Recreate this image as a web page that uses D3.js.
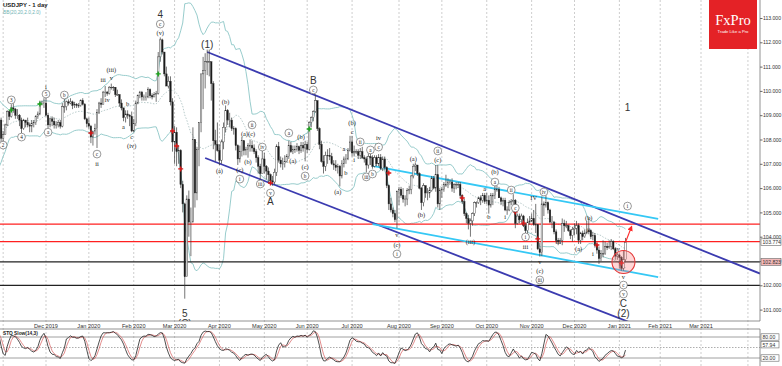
<!DOCTYPE html>
<html>
<head>
<meta charset="utf-8">
<script src="https://cdn.jsdelivr.net/npm/d3@7"></script>
<style>
body { margin: 0; background: #fff; }
svg { display: block; font-family: "Liberation Sans", Arial, sans-serif; }
</style>
</head>
<body>
<div id="chart"></div>
<script>
// daily bars, 3 Oct 2019 .. 7 Jan 2021 (first 20 bars only feed the indicators)
var highs = [
    107.3,107.1,107.4,107.5,107.6,108.1,108.6,108.5,108.9,108.9,108.85,108.75,108.7,108.7,108.75,108.75,108.75,109.0,109.05,109.3,108.9,
    108.35,108.65,109.2,109.2,109.45,109.5,109.3,109.25,109.05,108.9,108.85,108.8,108.9,108.7,108.8,108.8,109.0,109.15,109.6,109.6,109.7,
    109.75,109.1,108.9,108.95,108.9,108.75,108.8,108.8,109.5,109.7,109.6,109.65,109.7,109.6,109.55,109.5,109.5,109.65,109.7,109.5,108.9,
    108.9,108.6,108.35,108.65,109.25,109.55,109.7,110.0,110.2,110.0,110.2,110.3,110.2,110.15,110.05,109.85,109.65,109.2,109.2,109.2,109.05,109.15,
    108.85,109.6,109.85,110.0,110.0,109.85,109.95,110.15,110.1,109.9,109.95,110.0,111.6,112.2,112.15,111.6,111.0,110.6,110.6,109.7,
    108.55,108.5,107.75,107.6,106.3,105.4,105.7,105.9,105.2,108.5,107.5,107.7,108.7,110.7,111.4,111.55,111.7,111.7,111.2,110.4,108.4,108.7,
    107.8,108.0,108.7,109.4,109.25,109.1,108.9,108.55,108.5,107.8,107.75,108.1,107.95,107.7,107.85,108.0,107.95,107.8,107.6,107.35,107.0,107.55,
    107.45,106.95,106.85,106.6,106.5,106.8,107.8,107.9,107.3,107.25,107.35,107.4,107.95,107.9,107.75,107.75,107.85,107.75,107.9,107.9,107.95,
    107.9,108.75,108.95,109.2,109.85,109.6,108.5,107.95,107.35,107.5,107.6,107.65,107.45,107.15,107.15,107.0,106.95,107.15,107.3,107.4,107.65,108.15,
    108.15,107.75,107.6,107.6,107.65,107.7,107.35,107.3,107.45,107.45,107.35,107.35,107.35,107.4,107.4,107.3,107.3,106.9,106.15,105.6,105.2,105.1,105.9,
    106.05,106.05,106.0,105.7,106.0,106.1,106.55,107.0,107.05,106.95,106.65,106.05,106.2,106.1,106.0,106.05,106.5,106.5,106.95,106.95,106.0,
    106.05,106.25,106.55,106.4,106.35,106.4,106.2,106.25,106.25,106.25,105.75,105.55,105.0,104.9,104.75,105.0,105.45,105.45,105.65,105.7,105.8,105.8,
    105.8,105.7,105.8,105.8,106.1,106.1,106.05,105.65,105.6,105.6,105.25,105.5,105.55,105.75,105.55,104.95,104.95,104.95,104.9,104.55,104.75,104.85,
    104.95,105.1,105.35,104.5,103.75,105.65,105.45,105.7,105.45,105.15,104.85,104.65,104.3,103.95,103.95,104.75,104.7,104.65,104.5,104.3,104.4,
    104.55,104.65,104.55,104.2,104.25,104.3,104.65,104.75,104.3,104.2,104.15,103.75,103.6,103.45,103.85,103.8,103.75,103.85,103.9,103.85,103.55,103.35,
    103.3,103.2,103.45,103.95
];
var lows = [
    106.5,106.6,106.8,106.95,107.0,107.3,107.9,108.1,108.2,108.6,108.45,108.3,108.35,108.4,108.45,108.45,108.5,108.6,108.7,108.7,107.9,
    107.9,108.2,108.55,108.8,108.9,109.1,108.85,108.85,108.55,108.25,108.4,108.5,108.5,108.3,108.3,108.5,108.6,108.85,109.0,109.4,109.3,
    108.95,108.45,108.5,108.55,108.45,108.45,108.5,108.45,108.5,109.1,109.2,109.4,109.45,109.25,109.3,109.3,109.3,109.35,109.4,108.8,108.5,
    108.45,107.85,107.75,108.2,107.65,109.05,109.3,109.45,109.75,109.8,109.85,110.05,110.0,109.75,109.8,109.35,109.2,108.75,108.7,108.85,108.55,108.3,
    108.3,108.55,109.45,109.7,109.6,109.6,109.6,109.7,109.7,109.65,109.75,109.55,109.85,111.2,111.5,110.6,110.2,110.1,109.4,107.5,
    107.0,106.9,107.0,106.0,105.0,101.45,102.5,104.0,103.2,104.7,105.2,105.5,106.9,108.3,109.25,110.1,110.65,110.6,109.6,107.6,107.1,107.5,
    106.95,107.0,107.6,108.3,108.6,108.5,108.35,108.2,107.55,106.95,107.05,107.3,107.35,107.35,107.25,107.5,107.5,107.4,107.05,106.6,106.35,106.6,
    106.6,106.35,106.2,106.15,106.1,106.15,106.5,107.05,106.85,106.75,106.85,107.05,107.2,107.45,107.4,107.45,107.5,107.4,107.45,107.5,107.1,
    107.45,107.55,108.5,108.75,109.1,108.35,107.6,107.05,106.6,106.7,107.0,107.15,106.95,106.75,106.7,106.6,106.07,106.4,106.85,107.0,107.15,107.5,
    107.3,107.3,107.4,107.2,107.2,107.2,107.05,106.65,106.8,106.95,106.8,106.85,106.9,106.9,106.75,106.7,106.75,106.0,105.1,105.0,104.8,104.6,104.35,
    105.3,105.6,105.4,105.25,105.3,105.75,105.75,106.4,106.7,106.5,105.95,105.1,105.25,105.6,105.5,105.6,105.85,105.95,105.85,105.2,105.1,
    105.6,105.85,106.05,106.0,106.15,105.85,105.8,105.95,106.0,105.6,105.35,104.85,104.55,104.3,104.0,104.45,104.85,105.2,105.35,105.3,105.4,105.35,
    105.35,104.95,105.2,105.3,105.55,105.85,105.6,105.3,105.25,105.05,104.9,105.05,105.3,105.3,104.35,104.5,104.55,104.6,104.4,104.05,104.1,104.5,
    104.6,104.45,104.15,103.45,103.18,103.2,104.85,105.2,104.95,104.55,104.35,104.1,103.75,103.65,103.7,103.65,104.2,104.35,104.2,103.9,103.8,
    104.05,104.1,103.7,103.7,103.85,103.95,104.1,104.1,103.9,103.85,103.55,103.3,102.88,103.0,103.15,103.25,103.45,103.5,103.45,103.45,103.05,103.05,
    102.7,102.6,102.6,102.95
];
var closes = [
    106.9,106.9,107.25,107.1,107.45,107.95,108.4,108.4,108.85,108.75,108.65,108.45,108.6,108.5,108.7,108.6,108.7,108.95,108.85,108.8,108.05,
    108.2,108.6,109.15,108.95,109.3,109.25,109.0,109.0,108.8,108.45,108.8,108.7,108.6,108.55,108.65,108.7,108.95,109.05,109.5,109.5,109.5,
    109.0,108.6,108.85,108.75,108.6,108.6,108.7,108.55,109.35,109.35,109.55,109.5,109.55,109.4,109.45,109.4,109.4,109.6,109.45,108.85,108.65,
    108.55,108.1,108.35,108.45,109.1,109.5,109.45,109.95,109.95,109.9,110.15,110.15,110.15,109.85,109.85,109.5,109.3,108.9,109.05,109.0,108.95,108.35,
    108.65,109.5,109.8,109.95,109.75,109.75,109.75,110.05,109.8,109.75,109.85,109.9,111.4,112.1,111.6,110.7,110.2,110.4,109.55,107.9,
    108.3,107.5,107.55,106.15,105.35,102.35,105.55,104.6,104.6,108.0,105.8,107.6,108.7,110.7,110.85,111.2,111.2,111.2,110.3,107.95,107.8,107.55,
    107.15,107.9,108.5,109.2,108.8,108.8,108.45,108.45,107.75,107.2,107.5,107.95,107.55,107.6,107.75,107.75,107.65,107.5,107.25,106.9,106.6,107.2,
    106.9,106.7,106.55,106.3,106.25,106.65,107.7,107.15,107.0,107.0,107.1,107.3,107.75,107.5,107.6,107.6,107.7,107.55,107.75,107.65,107.8,
    107.6,108.7,108.9,109.15,109.6,108.45,107.8,107.1,106.9,107.35,107.35,107.3,107.0,106.95,106.85,106.9,106.5,107.0,107.2,107.2,107.55,107.9,
    107.45,107.5,107.5,107.35,107.5,107.25,107.2,106.95,107.3,107.25,106.9,107.25,107.0,107.25,106.8,107.2,106.85,106.1,105.35,105.1,104.95,104.7,105.85,
    105.95,105.7,105.55,105.55,105.9,105.95,106.5,106.9,106.95,106.6,106.0,105.4,106.1,105.8,105.8,105.9,106.4,106.0,106.55,105.35,105.9,
    105.95,106.15,106.15,106.25,106.25,106.0,106.15,106.15,106.15,105.7,105.45,104.95,104.75,104.55,104.65,104.95,105.4,105.4,105.6,105.5,105.7,105.45,
    105.5,105.3,105.7,105.7,105.95,105.95,105.6,105.45,105.5,105.1,105.1,105.4,105.45,105.5,104.55,104.85,104.7,104.85,104.45,104.25,104.6,104.65,
    104.75,104.5,104.5,103.5,103.35,105.35,105.3,105.4,105.1,104.6,104.6,104.2,103.85,103.8,103.85,104.55,104.45,104.45,104.25,104.05,104.3,
    104.35,104.45,103.85,104.15,104.0,104.15,104.2,104.25,104.0,104.05,103.65,103.45,103.1,103.3,103.3,103.6,103.55,103.6,103.8,103.5,103.2,103.25,
    103.15,102.7,103.05,103.77
];

var priceTicks = [101,102,103,104,105,106,107,108,109,110,111,112,113];
var stochLevels = [80, 20];
var resistance = [104.52, 103.8];   // red lines
var support = [102.96, 102.0];      // black lines
var priceBoxes = [[103.774, "103.774", "#fff"], [102.96, "102.823", "#f3b9b9"]];
var stochBoxes = [[80, "80.00"], [57.94, "57.94"], [20, "20.00"]];

// channel lines: two anchors each [date, price]
var darkChannel = [
    [["2020-03-24", 111.6], ["2020-06-04", 109.85]],
    [["2020-03-23", 107.24], ["2020-05-06", 106.2]]
];
var cyanChannel = [
    [["2020-07-15", 106.91], ["2021-01-29", 104.73]],
    [["2020-07-15", 104.52], ["2021-01-29", 102.34]]
];

// wave labels [date, price, text, kind]  c = circled, s = small, b = big
var waveLabels = [
    ["2019-11-01",107.77,"2","c"],["2019-11-07",109.63,"3","c"],["2019-11-14",108.1,"4","c"],
    ["2019-12-02",109.87,"5","c"],["2019-12-02",110.14,"i","s"],["2019-12-03",108.3,"a","c"],
    ["2019-12-13",109.83,"b","c"],["2020-01-08",107.4,"c","c"],["2020-01-08",107.0,"ii","s"],
    ["2020-01-13",110.45,"iii","s"],["2020-01-17",110.88,"(iii)","s"],["2020-01-17",110.53,"v","s"],
    ["2020-01-15",109.63,"iv","s"],["2020-01-27",108.5,"a","s"],["2020-01-29",109.46,"b","s"],
    ["2020-01-31",108.1,"c","s"],["2020-01-31",107.73,"(iv)","s"],
    ["2020-02-20",112.75,"c","c"],["2020-02-20",112.38,"(v)","s"],["2020-02-20",113.16,"4","b"],
    ["2020-03-09",100.86,"5","b"],["2020-03-09",100.42,"(C)","b"],["2020-03-24",111.93,"(1)","b"],
    ["2020-04-06",109.54,"(b)","s"],["2020-04-01",106.7,"(a)","s"],["2020-04-15",106.74,"(c)","s"],
    ["2020-04-15",106.37,"i","c"],["2020-04-21",108.23,"(a)(c)","s"],["2020-04-23",108.6,"ii","c"],
    ["2020-04-21",107.07,"(b)","s"],["2020-04-30",107.69,"iv","c"],["2020-04-29",106.17,"iii","c"],
    ["2020-05-06",105.8,"v","c"],["2020-05-06",105.43,"A","b"],["2020-05-19",108.27,"a","c"],
    ["2020-05-21",107.12,"(a)","s"],["2020-05-27",108.1,"(b)","s"],["2020-05-29",106.87,"(c)","s"],
    ["2020-05-29",106.5,"b","c"],["2020-06-04",110.04,"c","c"],["2020-06-04",110.41,"B","b"],
    ["2020-07-01",108.68,"(b)","s"],["2020-07-01",108.31,"c","s"],["2020-06-25",107.61,"a","s"],
    ["2020-07-02",107.16,"i","s"],["2020-06-26",106.62,"b","s"],["2020-06-22",105.84,"(a)","s"],
    ["2020-07-07",107.9,"ii","c"],["2020-07-10",106.46,"iii","c"],["2020-07-14",107.57,"a","c"],
    ["2020-07-15",106.58,"b","c"],["2020-07-20",108.06,"iv","s"],["2020-07-20",107.69,"c","c"],
    ["2020-07-31",104.07,"v","s"],["2020-07-31",103.66,"(c)","s"],["2020-07-31",103.29,"i","c"],
    ["2020-08-12",107.2,"(a)","s"],["2020-08-18",104.89,"(b)","s"],["2020-08-28",107.53,"ii","c"],
    ["2020-08-28",107.16,"(c)","s"],["2020-09-21",103.78,"(iii)","s"],["2020-10-07",106.66,"(b)","s"],
    ["2020-10-07",106.25,"a","c"],["2020-09-30",105.96,"a","s"],["2020-10-02",104.81,"b","s"],
    ["2020-10-14",104.81,"i","s"],["2020-10-19",105.92,"ii","c"],["2020-10-21",105.18,"c","c"],
    ["2020-10-28",103.99,"i","c"],["2020-10-28",103.58,"iii","s"],["2020-11-03",105.59,"IV","s"],
    ["2020-11-10",105.84,"iv","c"],["2020-11-06",102.96,"v","s"],["2020-11-06",102.59,"(c)","s"],
    ["2020-11-06",102.22,"iii","c"],["2020-11-19",103.78,"iii","s"],["2020-12-03",103.49,"(a)","s"],
    ["2020-12-10",104.77,"(b)","s"],["2020-12-10",104.28,"ii","s"],["2020-12-14",103.29,"i","s"],
    ["2020-12-31",103.49,"iv","s"],["2021-01-06",102.34,"v","s"],["2021-01-06",102.01,"c","c"],
    ["2021-01-06",101.64,"v","c"],["2021-01-06",101.27,"C","b"],["2021-01-06",100.86,"(2)","b"],
    ["2021-01-08",105.26,"i","c"],["2021-01-08",109.3,"1","b"]
];
var buyMarks = [["2019-11-07",109.21],["2019-11-27",109.46],["2020-02-19",110.7],["2020-06-02",108.43]];
var sellMarks = [["2020-01-03",108.27],["2020-02-28",108.35],["2020-03-03",107.73],["2020-03-05",106.79],
    ["2020-05-06",106.21],["2020-07-27",106.62],["2020-09-15",105.59],["2020-10-21",105.02],
    ["2020-10-27",104.56],["2020-11-05",103.91],["2020-12-16",103.66],["2021-01-05",102.92]];

// trading days: weekdays without 25 Dec and 1 Jan
var dayFmt = d3.utcFormat("%Y-%m-%d");
var mdFmt = d3.utcFormat("%m-%d");
var dates = [];
for (var d = new Date(Date.UTC(2019, 9, 3)); dates.length < closes.length + 90; d = d3.utcDay.offset(d, 1)) {
    var wd = d.getUTCDay();
    if (wd === 0 || wd === 6) continue;
    if (mdFmt(d) === "12-25" || mdFmt(d) === "01-01") continue;
    dates.push(dayFmt(d));
}
var idx = {};
dates.forEach(function(s, k) { idx[s] = k; });

var width = 782, height = 366;
var plotR = 760, mainB = 321, stoTop = 329, stoB = 366;

var svg = d3.select("#chart").append("svg")
    .attr("width", width)
    .attr("height", height);

var xScale = d3.scaleLinear()
    .domain([idx["2019-12-02"], idx["2021-03-01"]])
    .range([46, 701]);
var yScale = d3.scaleLinear().domain([101, 113]).range([309.6, 18]);
var sScale = d3.scaleLinear().domain([0, 100]).range([365, 330]);

var defs = svg.append("defs");
defs.append("clipPath").attr("id", "clipMain")
    .append("rect").attr("x", 0).attr("y", 0).attr("width", plotR).attr("height", mainB);
defs.append("clipPath").attr("id", "clipSto")
    .append("rect").attr("x", 0).attr("y", stoTop).attr("width", plotR).attr("height", stoB - stoTop);
defs.append("marker").attr("id", "arrowRed")
    .attr("viewBox", "0 0 10 10").attr("refX", 8).attr("refY", 5)
    .attr("markerWidth", 5).attr("markerHeight", 5).attr("orient", "auto")
    .append("path").attr("d", "M0,0L10,5L0,10Z").attr("fill", "#ff2a2a");

// month grid + labels
var monthStarts = [];
dates.forEach(function(s, k) {
    if (k > 0 && s.slice(5, 7) !== dates[k - 1].slice(5, 7)) monthStarts.push(k);
});
monthStarts = monthStarts.filter(function(k) { return xScale(k) > 2 && xScale(k) < plotR; });
var labelMonths = monthStarts.filter(function(k) { return xScale(k) > 20 && xScale(k) < 730; });
var monFmt = d3.utcFormat("%b %Y");

svg.append("g").selectAll("line")
    .data(monthStarts)
    .enter()
    .append("line")
    .attr("x1", function(k) { return xScale(k); })
    .attr("x2", function(k) { return xScale(k); })
    .attr("y1", 0)
    .attr("y2", stoB)
    .attr("stroke", "#b8b8b8")
    .attr("stroke-width", 0.7)
    .attr("stroke-dasharray", "2,2");

svg.append("g").selectAll("text")
    .data(labelMonths)
    .enter()
    .append("text")
    .attr("x", function(k) { return xScale(k); })
    .attr("y", 327.5)
    .attr("text-anchor", "middle")
    .attr("font-size", 5.6)
    .attr("fill", "#333")
    .text(function(k) { return monFmt(new Date(dates[k] + "T00:00:00Z")); });

// Bollinger bands 20 / 2.0
var bb = [];
for (var k = 19; k < closes.length; k++) {
    var win = closes.slice(k - 19, k + 1);
    var m = d3.mean(win);
    var sd = Math.sqrt(d3.mean(win, function(v) { return (v - m) * (v - m); }));
    bb.push({k: k, mid: m, up: m + 2 * sd, lo: m - 2 * sd});
}

var main = svg.append("g").attr("clip-path", "url(#clipMain)");

function bandLine(key) {
    return d3.line()
        .x(function(b) { return xScale(b.k); })
        .y(function(b) { return yScale(b[key]); });
}
main.append("path").datum(bb).attr("d", bandLine("up"))
    .attr("fill", "none").attr("stroke", "#8cc6c6").attr("stroke-width", 0.9);
main.append("path").datum(bb).attr("d", bandLine("lo"))
    .attr("fill", "none").attr("stroke", "#8cc6c6").attr("stroke-width", 0.9);
main.append("path").datum(bb).attr("d", bandLine("mid"))
    .attr("fill", "none").attr("stroke", "#9ab5b5").attr("stroke-width", 0.7)
    .attr("stroke-dasharray", "1.5,1.5");

// horizontal levels
main.selectAll(".res").data(resistance).enter().append("line")
    .attr("x1", 0).attr("x2", plotR)
    .attr("y1", function(p) { return yScale(p); })
    .attr("y2", function(p) { return yScale(p); })
    .attr("stroke", "#ff2020").attr("stroke-width", 1.3);
main.selectAll(".sup").data(support).enter().append("line")
    .attr("x1", 0).attr("x2", plotR)
    .attr("y1", function(p) { return yScale(p); })
    .attr("y2", function(p) { return yScale(p); })
    .attr("stroke", "#222").attr("stroke-width", 1.2);

// trend channels
darkChannel.forEach(function(p) {
    var k1 = idx[p[0][0]], k2 = idx[p[1][0]];
    var slope = (p[1][1] - p[0][1]) / (k2 - k1);
    var kEnd = xScale.invert(plotR);
    main.append("line")
        .attr("x1", xScale(k1)).attr("y1", yScale(p[0][1]))
        .attr("x2", xScale(kEnd)).attr("y2", yScale(p[0][1] + slope * (kEnd - k1)))
        .attr("stroke", "#3b3bb0").attr("stroke-width", 1.8);
});
cyanChannel.forEach(function(p) {
    main.append("line")
        .attr("x1", xScale(idx[p[0][0]])).attr("y1", yScale(p[0][1]))
        .attr("x2", xScale(idx[p[1][0]])).attr("y2", yScale(p[1][1]))
        .attr("stroke", "#35c8f5").attr("stroke-width", 1.8);
});

// candles
var bars = closes.map(function(c, k) {
    var o = k > 0 ? closes[k - 1] : c;
    return {k: k, o: o, c: c,
        h: Math.max(highs[k], o, c), l: Math.min(lows[k], o, c)};
});
main.selectAll(".wick").data(bars).enter().append("line")
    .attr("x1", function(b) { return xScale(b.k); })
    .attr("x2", function(b) { return xScale(b.k); })
    .attr("y1", function(b) { return yScale(b.h); })
    .attr("y2", function(b) { return yScale(b.l); })
    .attr("stroke", "#3a3a3a").attr("stroke-width", 0.7);
main.selectAll(".body").data(bars).enter().append("rect")
    .attr("x", function(b) { return xScale(b.k) - 0.75; })
    .attr("y", function(b) { return yScale(Math.max(b.o, b.c)); })
    .attr("width", 1.5)
    .attr("height", function(b) { return Math.max(0.6, Math.abs(yScale(b.o) - yScale(b.c))); })
    .attr("fill", function(b) { return b.c >= b.o ? "#fff" : "#1a1a1a"; })
    .attr("stroke", "#2a2a2a").attr("stroke-width", 0.4);

// buy / sell crosses
function cross(list, colour) {
    var g = main.append("g");
    list.forEach(function(m) {
        var x = xScale(idx[m[0]]), y = yScale(m[1]);
        g.append("path").attr("d", "M" + (x - 2.5) + "," + y + "H" + (x + 2.5) + "M" + x + "," + (y - 2.5) + "V" + (y + 2.5))
            .attr("stroke", colour).attr("stroke-width", 1.4);
    });
}
cross(buyMarks, "#19a319");
cross(sellMarks, "#d81818");

// wave labels
var lab = main.append("g");
waveLabels.forEach(function(l) {
    var x = xScale(idx[l[0]]), y = yScale(l[1]);
    if (l[3] === "c") {
        lab.append("circle").attr("cx", x).attr("cy", y).attr("r", 3.9)
            .attr("fill", "#fff").attr("stroke", "#555").attr("stroke-width", 0.6);
        lab.append("text").attr("x", x).attr("y", y + 1.7).attr("text-anchor", "middle")
            .attr("font-family", "Liberation Serif, serif").attr("font-size", 5.2).attr("fill", "#222")
            .text(l[2]);
    } else if (l[3] === "s") {
        lab.append("text").attr("x", x).attr("y", y + 2).attr("text-anchor", "middle")
            .attr("font-family", "Liberation Serif, serif").attr("font-size", 6.4).attr("fill", "#222")
            .text(l[2]);
    } else {
        lab.append("text").attr("x", x).attr("y", y + 3.5).attr("text-anchor", "middle")
            .attr("font-size", 10).attr("fill", "#333")
            .text(l[2]);
    }
});

// last-bar highlight and arrow
main.append("circle")
    .attr("cx", xScale(idx["2021-01-06"])).attr("cy", yScale(102.96)).attr("r", 11.5)
    .attr("fill", "rgba(255,120,120,0.3)").attr("stroke", "#e43a3a").attr("stroke-width", 1.1);
main.append("line")
    .attr("x1", xScale(idx["2021-01-07"])).attr("y1", yScale(103.77))
    .attr("x2", xScale(idx["2021-01-12"])).attr("y2", yScale(104.42))
    .attr("stroke", "#ff2a2a").attr("stroke-width", 1.1)
    .attr("marker-end", "url(#arrowRed)");

// frame and price axis
svg.append("line").attr("x1", 0).attr("x2", plotR).attr("y1", mainB).attr("y2", mainB)
    .attr("stroke", "#777").attr("stroke-width", 0.8);
svg.append("line").attr("x1", plotR).attr("x2", plotR).attr("y1", 0).attr("y2", mainB)
    .attr("stroke", "#777").attr("stroke-width", 0.8);
var yAxis = d3.axisRight(yScale).tickValues(priceTicks).tickSize(2.5)
    .tickFormat(d3.format(".3f"));
svg.append("g").attr("transform", "translate(" + plotR + ",0)").call(yAxis)
    .call(function(g) {
        g.select(".domain").remove();
        g.selectAll("line").attr("stroke", "#666");
        g.selectAll("text").attr("font-size", 5.1).attr("fill", "#333").attr("x", 3);
    });
priceBoxes.forEach(function(b) {
    var y = yScale(b[0]);
    svg.append("rect").attr("x", 761).attr("y", y - 3.4).attr("width", 20).attr("height", 6.8)
        .attr("fill", b[2]).attr("stroke", "#666").attr("stroke-width", 0.6);
    svg.append("text").attr("x", 762.5).attr("y", y + 1.8).attr("font-size", 5.1).attr("fill", "#333").text(b[1]);
});

// titles
svg.append("text").attr("x", 3).attr("y", 6.5).attr("font-size", 6).attr("font-weight", "bold")
    .attr("fill", "#222").text("USDJPY - 1 day");
svg.append("text").attr("x", 3).attr("y", 13.5).attr("font-size", 4.8)
    .attr("fill", "#6fb3b3").text("BB(20,20,2.0,2.0)");

// FxPro badge
svg.append("rect").attr("x", 709).attr("y", 0).attr("width", 48).attr("height", 49).attr("fill", "#e42226");
svg.append("text").attr("x", 733).attr("y", 25).attr("text-anchor", "middle")
    .attr("font-family", "Liberation Serif, serif").attr("font-size", 14.5).attr("fill", "#fff").text("FxPro");
svg.append("text").attr("x", 733).attr("y", 32.5).attr("text-anchor", "middle")
    .attr("font-size", 4.2).attr("fill", "#fff").text("Trade Like a Pro");

// stochastic 14,3,3
var rawK = [], slowK = [], sigD = [];
for (var j = 0; j < closes.length; j++) {
    if (j >= 13) {
        var hh = d3.max(highs.slice(j - 13, j + 1)), ll = d3.min(lows.slice(j - 13, j + 1));
        rawK[j] = (closes[j] - ll) / (hh - ll) * 100;
    }
    if (j >= 15) slowK[j] = (rawK[j] + rawK[j - 1] + rawK[j - 2]) / 3;
    if (j >= 17) sigD[j] = (slowK[j] + slowK[j - 1] + slowK[j - 2]) / 3;
}
var sto = svg.append("g").attr("clip-path", "url(#clipSto)");
svg.append("line").attr("x1", 0).attr("x2", plotR).attr("y1", stoTop).attr("y2", stoTop)
    .attr("stroke", "#777").attr("stroke-width", 0.8);
svg.append("line").attr("x1", plotR).attr("x2", plotR).attr("y1", stoTop).attr("y2", stoB)
    .attr("stroke", "#777").attr("stroke-width", 0.8);
sto.selectAll(".lvl").data(stochLevels).enter().append("line")
    .attr("x1", 0).attr("x2", plotR)
    .attr("y1", function(v) { return sScale(v); }).attr("y2", function(v) { return sScale(v); })
    .attr("stroke", "#888").attr("stroke-width", 0.8);
sto.append("line").attr("x1", 0).attr("x2", plotR)
    .attr("y1", sScale(50)).attr("y2", sScale(50))
    .attr("stroke", "#777").attr("stroke-width", 0.6).attr("stroke-dasharray", "1.5,1.5");
var sLine = function(arr) {
    return d3.line()
        .defined(function(v) { return v !== undefined; })
        .x(function(v, k) { return xScale(k); })
        .y(function(v) { return sScale(v); })(arr);
};
var kArr = closes.map(function(c, k) { return slowK[k]; });
var dArr = closes.map(function(c, k) { return sigD[k]; });
sto.append("path").attr("d", sLine(dArr)).attr("fill", "none").attr("stroke", "#d75c5c").attr("stroke-width", 0.7);
sto.append("path").attr("d", sLine(kArr)).attr("fill", "none").attr("stroke", "#222").attr("stroke-width", 0.8);
svg.append("text").attr("x", 3).attr("y", 334.5).attr("font-size", 4.8).attr("font-weight", "bold")
    .attr("fill", "#222").text("STO Slow(14,3)");
stochBoxes.forEach(function(b) {
    var y = sScale(b[0]);
    svg.append("rect").attr("x", 761).attr("y", y - 3.2).attr("width", 18).attr("height", 6.4)
        .attr("fill", "#fff").attr("stroke", "#666").attr("stroke-width", 0.6);
    svg.append("text").attr("x", 762.5).attr("y", y + 1.8).attr("font-size", 5.1).attr("fill", "#333").text(b[1]);
});
</script>
</body>
</html>
